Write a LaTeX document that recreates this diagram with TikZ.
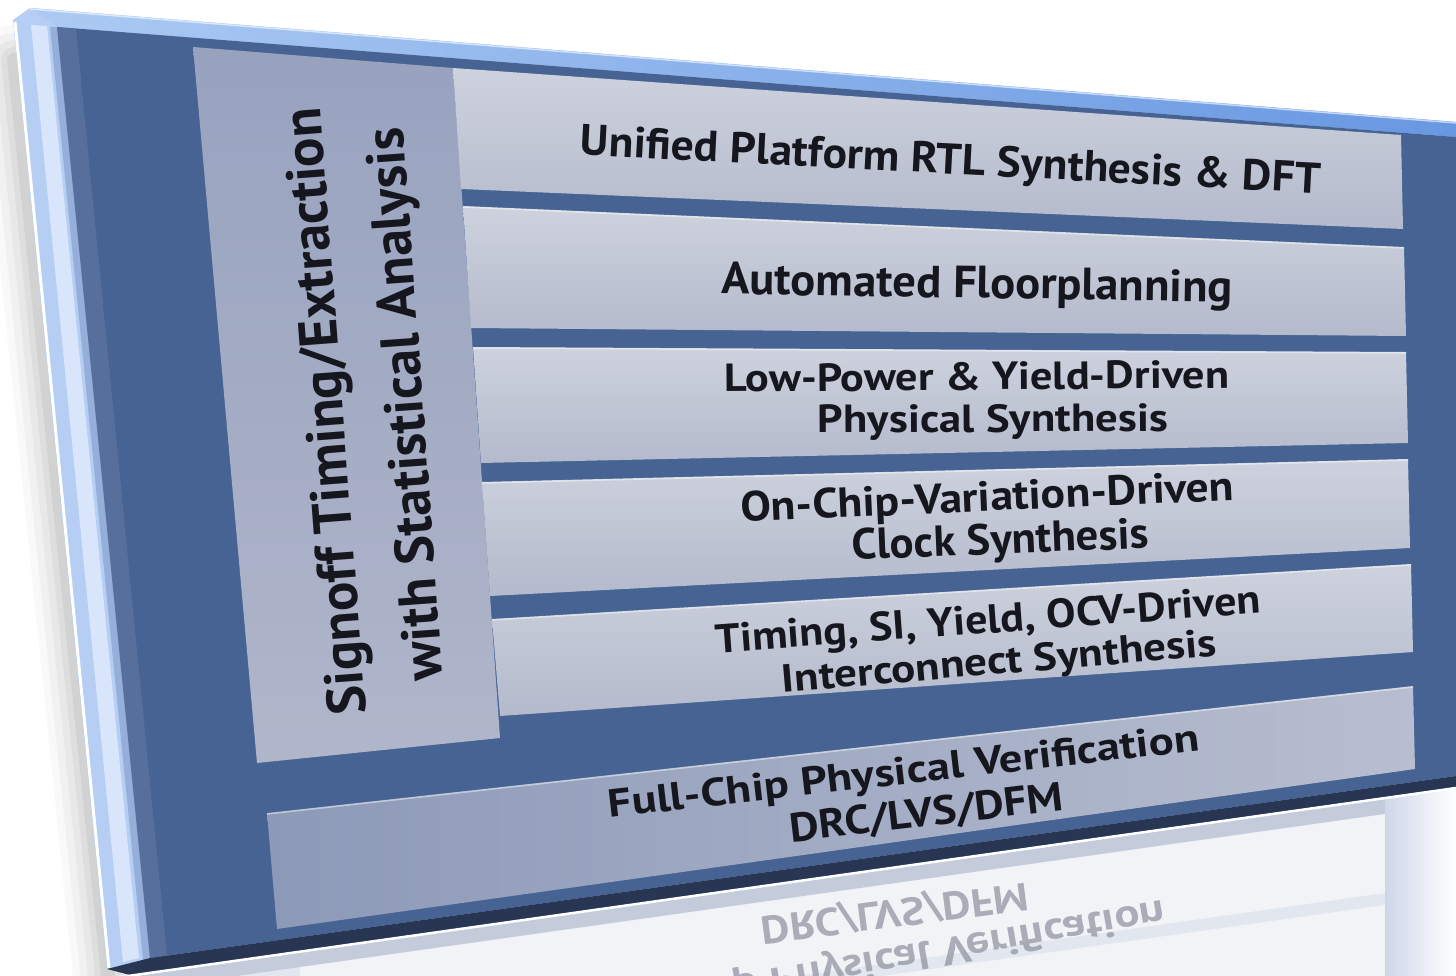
\documentclass[tikz,border=0pt]{standalone}
\usepackage{fontspec}
\setmainfont{PT Sans}
\usepackage{graphicx}
\definecolor{panel}{RGB}{70,99,148}
\definecolor{panelstripe}{RGB}{98,120,162}
\definecolor{rowtop}{RGB}{206,210,222}
\definecolor{rowbot}{RGB}{180,186,204}
\definecolor{coltop}{RGB}{152,162,191}
\definecolor{colbot}{RGB}{176,182,202}
\definecolor{fcl}{RGB}{140,153,184}
\definecolor{fcr}{RGB}{184,190,208}
\definecolor{bevlight}{RGB}{182,206,244}
\definecolor{bevpale}{RGB}{216,229,250}
\definecolor{bevmid}{RGB}{150,175,218}
\definecolor{bevtopL}{RGB}{172,202,243}
\definecolor{bevtopR}{RGB}{104,152,226}
\definecolor{navy}{RGB}{40,54,84}
\definecolor{txtc}{RGB}{22,22,30}
\definecolor{reflc}{RGB}{140,144,156}
\definecolor{reflbg}{RGB}{196,203,219}
\definecolor{reflmid}{RGB}{226,230,238}
\definecolor{refllight}{RGB}{241,243,247}
\definecolor{reflR}{RGB}{206,215,233}
\begin{document}
\begin{tikzpicture}[x=1pt,y=-1pt,
  lbl/.style={anchor=base,inner sep=0pt,outer sep=0pt,text=txtc,font=\bfseries},
  refl/.style={anchor=base,inner sep=0pt,outer sep=0pt,text=reflc,font=\bfseries,opacity=.7},
  rowbox/.style={top color=rowtop,bottom color=rowbot},
  hilite/.style={white,opacity=.45,line width=1.5pt},
]
\fill[white] (0,0) rectangle (1456,976);
\useasboundingbox (0,0) rectangle (1456,976);
\clip (0,0) rectangle (1456,976);

% soft shadow on the left
\foreach \w/\o in {70/0.025,55/0.03,40/0.035,26/0.04,14/0.05} {
  \draw[black,opacity=\o,line width=\w pt,line cap=round] (14,60) -- (108,975);
}

% reflection area
\fill[refllight] (116,976) -- (130,975) -- (1420,793) -- (1420,976) -- cycle;
\fill[reflmid] (130,975) -- (1420,793) -- (1420,900) -- (130,1082) -- cycle;
\fill[refllight] (300,964) -- (1385,811) -- (1385,893) -- (300,1046) -- cycle;
\fill[reflbg] (130,975) -- (1420,793) -- (1420,809) -- (130,991) -- cycle;
\shade[left color=reflR,right color=white] (1385,796) -- (1456,786) -- (1456,976) -- (1385,976) -- cycle;

% reflected text
\node[refl,rotate=7.3,yscale=-1] (xdrc) at (893,900) {\resizebox{269pt}{28pt}{DRC/LVS/DFM}};
\node[refl,rotate=10,yscale=-1] (xfc) at (870,952) {\resizebox{594pt}{28pt}{Full-Chip Physical Verification}};

% bevel frame
\fill[bevlight] (13,20) -- (30,8) -- (1456,122) -- (1456,787) -- (130,975) -- (107,969) -- cycle;
\fill[bevpale] (31,25) -- (47,26) -- (139,958) -- (123,962) -- cycle;
\fill[bevmid] (50,27) -- (57,27) -- (150,958) -- (143,960) -- cycle;
\draw[white,line width=3pt] (15,22) -- (109,968);
\shade[left color=bevtopL,right color=bevtopR] (30,8) -- (1456,122) -- (1456,137) -- (57,27) -- cycle;
\draw[white,opacity=.6,line width=1.5pt] (30,9) -- (1456,123);

% dark panel
\fill[panel] (57,27) -- (1456,137) -- (1456,776) -- (150,958) -- cycle;
\fill[panelstripe,opacity=.6] (57,27) -- (76,29) -- (167,956) -- (150,958) -- cycle;

% bottom edge
\fill[navy] (150,958) -- (1456,776) -- (1456,787) -- (130,975) -- (107,969) -- cycle;
\draw[white,line width=2.5pt] (128,976) -- (1456,788);

% left column
\shade[top color=coltop,bottom color=colbot] (193,47) -- (453,68) -- (500,738) -- (257,763) -- cycle;

% rows
\shade[rowbox] (453,68) -- (1401,135) -- (1403,229) -- (461,189) -- cycle;
\shade[rowbox] (463,206) -- (1404,247) -- (1406,336) -- (471,328) -- cycle;
\shade[rowbox] (473,347) -- (1406,352) -- (1408,443) -- (481,463) -- cycle;
\shade[rowbox] (482,482) -- (1408,459) -- (1410,548) -- (490,596) -- cycle;
\shade[rowbox] (492,619) -- (1411,564) -- (1413,652) -- (500,716) -- cycle;
\shade[left color=fcl,right color=fcr] (267,813) -- (1413,686) -- (1415,769) -- (277,929) -- cycle;
\draw[hilite] (463,207) -- (1404,248);
\draw[hilite] (473,348) -- (1406,353);
\draw[hilite] (482,483) -- (1408,460);
\draw[hilite] (492,620) -- (1411,565);
\draw[hilite] (267,814) -- (1413,687);

% labels
\node[lbl,rotate=94.34] (c1) at (343,410) {\resizebox{608pt}{39pt}{Signoff Timing/Extraction}};
\node[lbl,rotate=94.1] (c2) at (423,403) {\resizebox{554pt}{39pt}{with Statistical Analysis}};
\node[lbl,rotate=-3.0] (r1) at (950,174) {\resizebox{741pt}{31pt}{Unified Platform RTL Synthesis \& DFT}};
\node[lbl,rotate=-0.9] (r2) at (977,298) {\resizebox{511pt}{32pt}{Automated Floorplanning}};
\node[lbl,rotate=0.45] (r3a) at (977,390) {\resizebox{505pt}{28pt}{Low-Power \& Yield-Driven}};
\node[lbl,rotate=0.3] (r3b) at (993,432) {\resizebox{350pt}{28pt}{Physical Synthesis}};
\node[lbl,rotate=2.55] (r4a) at (988,511) {\resizebox{494pt}{30pt}{On-Chip-Variation-Driven}};
\node[lbl,rotate=2.3] (r4b) at (1001,554) {\resizebox{297pt}{31pt}{Clock Synthesis}};
\node[lbl,rotate=4.2] (r5a) at (989,633) {\resizebox{546pt}{29pt}{Timing, SI, Yield, OCV-Driven}};
\node[lbl,rotate=4.85] (r5b) at (1000,674) {\resizebox{436pt}{28pt}{Interconnect Synthesis}};
\node[lbl,rotate=6.5] (r6a) at (905,784) {\resizebox{594pt}{28pt}{Full-Chip Physical Verification}};
\node[lbl,rotate=6.7] (r6b) at (928,826) {\resizebox{275pt}{29pt}{DRC/LVS/DFM}};
\end{tikzpicture}
\end{document}
